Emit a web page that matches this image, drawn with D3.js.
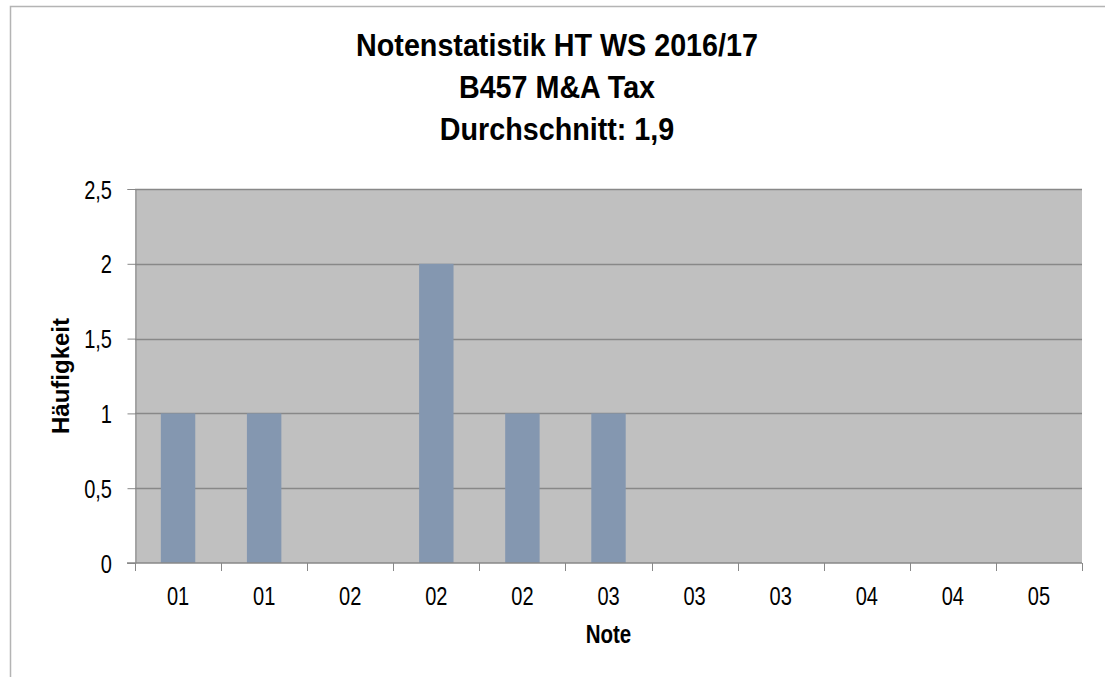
<!DOCTYPE html>
<html>
<head>
<meta charset="utf-8">
<script src="https://cdn.jsdelivr.net/npm/d3@7"></script>
<style>
body { margin: 0; background: #fff; }
text { fill: #000; }
</style>
</head>
<body>
<div id="chart"></div>
<script>
// chart values
var titleLines = ['Notenstatistik HT WS 2016/17', 'B457 M&A Tax', 'Durchschnitt: 1,9'];
var noten = ['01', '01', '02', '02', '02', '03', '03', '03', '04', '04', '05'];
var haeufigkeit = [1, 1, 0, 2, 1, 1, 0, 0, 0, 0, 0];
var yTicks = [0, 0.5, 1, 1.5, 2, 2.5];
var xTitle = 'Note';
var yTitle = 'Häufigkeit';

var width = 1105;
var height = 677;
var margin = {top: 189, right: 23, bottom: 114, left: 135};
var font = '"Liberation Sans", Arial, sans-serif';
var squeeze = 0.77; // labels in the picture are narrow, squeeze them horizontally

var svg = d3.select('#chart').append('svg')
    .attr('width', width)
    .attr('height', height);

// outer chart frame (runs off the picture on right and bottom)
svg.append('rect')
    .attr('x', 10.5)
    .attr('y', 6.5)
    .attr('width', 1200)
    .attr('height', 800)
    .attr('fill', 'none')
    .attr('stroke', '#b4b4b4')
    .attr('stroke-width', 1.5);

var x = d3.scaleBand()
    .domain(d3.range(noten.length))
    .range([margin.left, width - margin.right])
    .paddingInner(0.6)
    .paddingOuter(0.3);

var y = d3.scaleLinear()
    .domain([0, 2.5])
    .range([height - margin.bottom, margin.top]);

// plot background
svg.append('rect')
    .attr('x', margin.left)
    .attr('y', margin.top)
    .attr('width', width - margin.right - margin.left)
    .attr('height', height - margin.bottom - margin.top)
    .attr('fill', '#c0c0c0');

// gridlines
svg.append('g')
    .selectAll('line')
    .data(yTicks.slice(1))
    .enter().append('line')
    .attr('x1', margin.left)
    .attr('x2', width - margin.right)
    .attr('y1', function (d) { return Math.round(y(d)) + 0.5; })
    .attr('y2', function (d) { return Math.round(y(d)) + 0.5; })
    .attr('stroke', '#888888')
    .attr('stroke-width', 1.5);

// bars
svg.append('g')
    .selectAll('rect')
    .data(haeufigkeit)
    .enter().append('rect')
    .attr('x', function (d, i) { return x(i); })
    .attr('y', function (d) { return y(d); })
    .attr('width', x.bandwidth())
    .attr('height', function (d) { return y(0) - y(d); })
    .attr('fill', '#8497b0');

// y axis line + ticks
var yAxis = svg.append('g')
    .attr('transform', 'translate(' + (margin.left + 0.5) + ',0)')
    .call(d3.axisLeft(y).tickValues(yTicks).tickSize(8).tickFormat(''));
yAxis.selectAll('path, line').attr('stroke', '#888888');

// y tick labels (drawn separately so they can be squeezed)
svg.append('g')
    .selectAll('text')
    .data(yTicks)
    .enter().append('text')
    .attr('transform', function (d) { return 'translate(112,' + (y(d) + 9.5) + ') scale(' + squeeze + ',1)'; })
    .attr('text-anchor', 'end')
    .style('font-family', font)
    .style('font-size', '26px')
    .text(function (d) { return String(d).replace('.', ','); });

// x axis (ticks between categories)
var bounds = d3.range(noten.length + 1).map(function (i) {
    return margin.left + i * (width - margin.right - margin.left) / noten.length;
});
var xAxisG = svg.append('g');
xAxisG.append('line')
    .attr('x1', margin.left - 8)
    .attr('x2', width - margin.right)
    .attr('y1', y(0))
    .attr('y2', y(0))
    .attr('stroke', '#888888')
    .attr('stroke-width', 1.5);
xAxisG.selectAll('line.tick')
    .data(bounds)
    .enter().append('line')
    .attr('class', 'tick')
    .attr('x1', function (d) { return Math.round(d) + 0.5; })
    .attr('x2', function (d) { return Math.round(d) + 0.5; })
    .attr('y1', y(0))
    .attr('y2', y(0) + 8)
    .attr('stroke', '#888888');
xAxisG.selectAll('text')
    .data(noten)
    .enter().append('text')
    .attr('transform', function (d, i) {
        return 'translate(' + (x(i) + x.bandwidth() / 2) + ',605) scale(' + squeeze + ',1)';
    })
    .attr('text-anchor', 'middle')
    .style('font-family', font)
    .style('font-size', '26px')
    .text(function (d) { return d; });

// axis titles
svg.append('text')
    .attr('transform', 'translate(' + ((margin.left + width - margin.right) / 2) + ',643) scale(0.82,1)')
    .attr('text-anchor', 'middle')
    .style('font-family', font)
    .style('font-weight', 'bold')
    .style('font-size', '25px')
    .text(xTitle);

svg.append('text')
    .attr('transform', 'translate(69,' + (y(1.25)) + ') rotate(-90)')
    .attr('text-anchor', 'middle')
    .style('font-family', font)
    .style('font-weight', 'bold')
    .style('font-size', '24px')
    .text(yTitle);

// title
svg.append('g')
    .selectAll('text')
    .data(titleLines)
    .enter().append('text')
    .attr('transform', function (d, i) { return 'translate(557,' + (56 + i * 42) + ') scale(0.99,1.1)'; })
    .attr('text-anchor', 'middle')
    .style('font-family', font)
    .style('font-weight', 'bold')
    .style('font-size', '29px')
    .text(function (d) { return d; });
</script>
</body>
</html>
